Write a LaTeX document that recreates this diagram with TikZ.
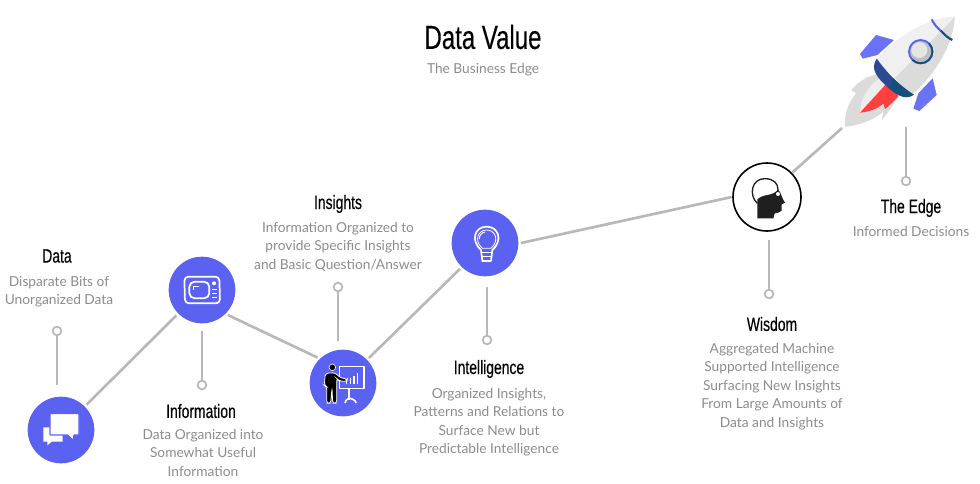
\documentclass[tikz,border=0pt]{standalone}
\usepackage{fontspec}
\setmainfont{Lato}
\newfontfamily\headfont[FakeStretch=0.72,FakeBold=0.25]{Liberation Sans}
\definecolor{bluedisc}{HTML}{5B62F2}
\definecolor{linegray}{HTML}{B8B8B8}
\definecolor{textgray}{HTML}{8C8C8C}
\definecolor{navy}{HTML}{14507C}
\tikzset{
  disc/.style={circle,fill=bluedisc,minimum size=50pt,inner sep=0pt,outer sep=2pt},
  ring/.style={circle,draw=linegray,fill=white,line width=1.3pt,minimum size=6.5pt,inner sep=0pt},
  link/.style={draw=linegray,line width=2pt},
  stem/.style={draw=linegray,line width=1.5pt},
  heading/.style={font=\headfont\fontsize{14.5pt}{17pt}\selectfont,text=black,inner sep=0pt},
  blurb/.style={font=\fontsize{10.3pt}{13.85pt}\selectfont,text=textgray,align=center,anchor=north,inner sep=0pt},
  zoomed/.style={x=.25pt,y=-.25pt},
  iconline/.style={draw=white,line width=1.3pt,line join=round}
}
\begin{document}
\begin{tikzpicture}[x=.75pt,y=-.75pt]
\useasboundingbox (0,0) rectangle (980,483);
% title
\node [font=\headfont\fontsize{25pt}{30pt}\selectfont,inner sep=0pt] (title) at (483,37) {Data Value};
\node [font=\fontsize{10.3pt}{13pt}\selectfont,text=textgray,inner sep=0pt] (subtitle) at (483,70) {The Business Edge};
% discs
\node [disc] (chat) at (61,430) {};
\node [disc] (screen) at (202,290) {};
\node [disc] (coach) at (343,383) {};
\node [disc] (bulb) at (485,243) {};
\node [disc,fill=white,draw=black,line width=1.2pt,minimum size=51pt,outer sep=1pt] (brain) at (767,197) {};
\coordinate (tail) at (842,128);
% path of the discs
\draw [link] (chat) -- (screen);
\draw [link] (screen.-44) -- (coach.135);
\draw [link] (coach.44) -- (bulb.226);
\draw [link] (bulb.0) -- (brain.180);
\draw [link] (brain.44) -- (tail);
% stems
\coordinate (dataroot) at (57,385);
\coordinate (inforoot) at (202,331);
\coordinate (insightroot) at (338,341);
\coordinate (intelroot) at (487,287);
\coordinate (wisdomroot) at (769,240);
\coordinate (edgeroot) at (906,127);
\node [ring] (dataring) at (57,331) {};
\node [ring] (inforing) at (202,385) {};
\node [ring] (insightring) at (338,287) {};
\node [ring] (intelring) at (487,340) {};
\node [ring] (wisdomring) at (769,294) {};
\node [ring] (edgering) at (906,181) {};
\draw [stem] (dataroot) -- (dataring);
\draw [stem] (inforoot) -- (inforing);
\draw [stem] (insightroot) -- (insightring);
\draw [stem] (intelroot) -- (intelring);
\draw [stem] (wisdomroot) -- (wisdomring);
\draw [stem] (edgeroot) -- (edgering);
% labels
\node [heading] (datahead) at (57,256) {Data};
\node [blurb] (datatext) at (59,276) {Disparate Bits of\\Unorganized Data};
\node [heading] (infohead) at (201,411) {Information};
\node [blurb] (infotext) at (203,429) {Data Organized into\\Somewhat Useful\\Information};
\node [heading] (insighthead) at (338,204) {Insights};
\node [blurb] (insighttext) at (338,222) {Information Organized to\\provide Specific Insights\\and Basic Question/Answer};
\node [heading] (intelhead) at (489,369) {Intelligence};
\node [blurb] (inteltext) at (489,388) {Organized Insights,\\Patterns and Relations to\\Surface New but\\Predictable Intelligence};
\node [heading] (wisdomhead) at (772,324) {Wisdom};
\node [blurb] (wisdomtext) at (772,343) {Aggregated Machine\\Supported Intelligence\\Surfacing New Insights\\From Large Amounts of\\Data and Insights};
\node [heading] (edgehead) at (911,208) {The Edge};
\node [blurb] (edgetext) at (911,226) {Informed Decisions};
% chat icon
\begin{scope}[shift={(0,240)},zoomed]
\fill [white] (130,562) -- (188,562) -- (188,605) -- (155,605) -- (142,616) -- (142,605) -- (130,605) -- cycle;
\fill [white,draw=bluedisc,line width=.8pt,rounded corners=.5pt] (150,521) -- (237,521) -- (237,585) -- (221,585) -- (220,601) -- (204,585) -- (150,585) -- cycle;
\end{scope}
% screen icon
\begin{scope}[shift={(0,240)},zoomed]
\draw [iconline,rounded corners=3pt] (553,110) -- (658,110) -- (660,190) -- (555,190) -- cycle;
\draw [iconline,rounded corners=4pt] (568,125) rectangle (628,175);
\draw [white,line width=.7pt] (581,150) -- (581,140) -- (597,140);
\fill [white] (642,130) circle [radius=6];
\draw [white,line width=.8pt] (636,148) -- (650,148) (636,160) -- (650,160) (636,172) -- (650,172);
\end{scope}
% coach icon
\begin{scope}[shift={(290,200)},zoomed]
\draw [iconline,line width=1pt] (148,499) rectangle (222,565);
\draw [white,line width=1.4pt] (178,565) -- (178,600);
\draw [white,line width=1.2pt] (165,609) .. controls (168,598) and (175,595) .. (178,595) .. controls (182,595) and (195,598) .. (199,609);
\foreach \barx/\bartop in {170/542,181/534,192/528,203/519}
  \draw [white,line width=1.1pt] (\barx,553) -- (\barx,\bartop);
\draw [black,fill=black,line width=.4pt,postaction={draw=white,line width=.5pt}] (127,502) circle [radius=10];
\draw [fill=black,draw=white,line width=.6pt,rounded corners=2pt] (106,520) -- (135,518) -- (150,533) -- (172,537) -- (170,545) -- (146,542) -- (140,535) -- (140,610) -- (128,610) -- (126,565) -- (122,610) -- (110,610) -- (110,560) -- (103,556) -- cycle;
\end{scope}
% bulb icon
\begin{scope}[shift={(290,200)},zoomed]
\draw [iconline] (573,150) .. controls (540,120) and (555,80) .. (590,80) .. controls (625,80) and (640,120) .. (607,150) -- (603,183) -- (577,183) -- cycle;
\draw [white,line width=.6pt] (577,145) .. controls (550,120) and (565,90) .. (590,90) .. controls (615,90) and (630,120) .. (603,145) -- cycle;
\draw [white,line width=.7pt] (568,117) .. controls (568,105) and (575,98) .. (585,96);
\draw [white,line width=.7pt] (574,158) -- (606,158) (576,170) -- (604,170);
\end{scope}
% brain icon
\begin{scope}[shift={(710,150)},zoomed]
\fill [black!88] (142,205) -- (142,148) .. controls (160,130) and (190,140) .. (204,118) .. controls (215,130) and (215,145) .. (225,158) -- (215,163) -- (215,182) .. controls (210,190) and (200,187) .. (194,190) -- (190,205) -- cycle;
\draw [black!88,line width=1pt] (142,160) .. controls (115,135) and (125,85) .. (165,86) .. controls (190,86) and (205,100) .. (204,120);
\fill [white] (204,132) circle [radius=6];
\end{scope}
% rocket
\begin{scope}[shift={(820,0)},zoomed]
% flame
\fill [black!14] (75,380) .. controls (72,340) and (85,310) .. (108,280) -- (94,270) .. controls (110,250) and (140,225) .. (178,222) -- (235,285) .. controls (225,310) and (205,335) .. (185,362) -- (190,335) .. controls (160,362) and (110,378) .. cycle;
\fill [black!7] (120,338) .. controls (120,300) and (145,255) .. (178,236) -- (210,262) -- cycle;
\fill [red!75!white] (120,338) -- (200,250) -- (236,288) .. controls (225,300) and (205,320) .. (195,327) -- (190,310) .. controls (175,325) and (150,335) .. cycle;
% fins
\fill [bluedisc!90!white] (168,105) -- (222,120) -- (172,165) -- (128,176) -- (120,162) -- cycle;
\fill [bluedisc!90!white] (338,235) -- (350,285) -- (298,333) -- (280,326) -- (295,280) -- cycle;
% hull
\fill [black!14] (405,50) .. controls (320,55) and (230,110) .. (170,180) -- (275,285) .. controls (350,220) and (400,130) .. cycle;
\fill [black!6] (405,50) .. controls (320,55) and (230,110) .. (170,180) -- (224,234) -- cycle;
% bands
\fill [navy] (170,176) .. controls (152,205) and (165,228) .. (208,266) .. controls (240,294) and (262,298) .. (282,284) .. controls (250,265) and (195,215) .. cycle;
\fill [bluedisc!70!black,opacity=.55] (170,176) .. controls (152,205) and (165,228) .. (208,266) -- (220,238) -- cycle;
\draw [navy,line width=1.6pt] (362,92) .. controls (375,105) and (385,115) .. (397,120);
\draw [bluedisc,line width=1.6pt] (335,58) .. controls (342,72) and (350,82) .. (362,92);
% window
\fill [black!25] (302,155) circle [radius=35];
\fill [black!10] (298,150) circle [radius=24];
\draw [bluedisc,line width=1.4pt] (302,155) circle [radius=35];
\draw [navy,line width=1.4pt] (327,130) arc [start angle=-45,end angle=135,radius=35];
\end{scope}
\end{tikzpicture}
\end{document}
